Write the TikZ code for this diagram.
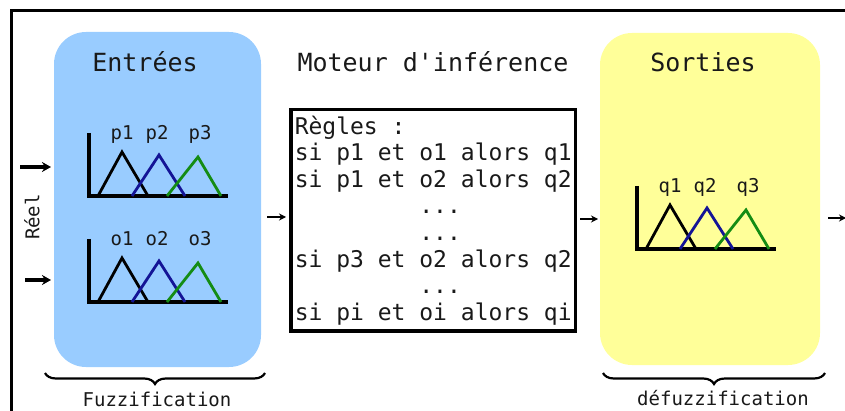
\documentclass[tikz,border=0pt]{standalone}
\usepackage{fontspec}
\setmonofont{DejaVu Sans Mono}
\usetikzlibrary{arrows.meta,decorations.pathreplacing}
\definecolor{inblue}{RGB}{153,204,255}
\definecolor{outyellow}{RGB}{255,255,153}
\definecolor{txt}{RGB}{25,25,25}
\definecolor{mfblue}{RGB}{20,20,150}
\definecolor{mfgreen}{RGB}{20,140,20}
\tikzset{
  mf/.pic={
    \draw[line width=4.5pt] (0,-63) -- (0,0) -- (139,0);
    \draw[line width=2.8pt, black] (9,0) -- (33,-44) -- (59,0);
    \draw[line width=2.8pt, mfblue] (43,0) -- (70,-41) -- (96,0);
    \draw[line width=2.8pt, mfgreen] (78,0) -- (109,-39) -- (132,0);
    \node[small, anchor=base] (-l1) at (33,-56) {#11};
    \node[small, anchor=base] (-l2) at (68,-56) {#12};
    \node[small, anchor=base] (-l3) at (111,-56) {#13};
  }
}
\begin{document}
\begin{tikzpicture}[x=1pt,y=-1pt,
  every node/.style={font=\ttfamily, text=txt},
  title/.style={font=\ttfamily\fontsize{25}{30}\selectfont, anchor=base, inner sep=0pt},
  small/.style={font=\ttfamily\fontsize{19}{22}\selectfont, inner sep=0pt},
  panel/.style={rounded corners=32pt, inner sep=0pt},
  rulesbox/.style={draw, line width=3.5pt, align=left, anchor=north west,
    font=\ttfamily\fontsize{23}{26.6}\selectfont, inner xsep=4pt, inner ysep=6pt},
  flow/.style={line width=2pt, -{Stealth[length=7pt,width=7pt]}},
  flowthick/.style={line width=3.5pt, -{Stealth[length=9pt,width=10pt]}},
  bracestyle/.style={decorate, decoration={brace, mirror, amplitude=11pt}, line width=2.2pt}
]
\useasboundingbox (0,0) rectangle (845,411);
% outer frame
\draw[line width=3pt] (11,430) -- (11,11) -- (860,11);
% panels
\node[panel, fill=inblue, minimum width=207pt, minimum height=335pt] (inbox) at (157.5,199.5) {};
\node[panel, fill=outyellow, minimum width=220pt, minimum height=332pt] (outbox) at (710,199) {};
% titles
\node[title] (tin) at (145,72) {Entrées};
\node[title] (teng) at (433,72) {Moteur d'inférence};
\node[title] (tout) at (703,72) {Sorties};
% charts
\pic (cp) at (89,196) {mf=p};
\pic (co) at (89,302) {mf=o};
\pic (cq) at (637,249) {mf=q};
% rules
\node[rulesbox] (rules) at (289,108) {Règles :\\
si p1 et o1 alors q1\\
si p1 et o2 alors q2\\
\phantom{si p1 et }...\\
\phantom{si p1 et }...\\
si p3 et o2 alors q2\\
\phantom{si p1 et }...\\
si pi et oi alors qi};
% arrows
\coordinate (a1s) at (20,167); \coordinate (a1e) at (51,167);
\coordinate (a2s) at (25,280); \coordinate (a2e) at (51,280);
\coordinate (m1s) at (267,217); \coordinate (m1e) at (286,217);
\coordinate (m2s) at (580,219); \coordinate (m2e) at (598,219);
\coordinate (m3s) at (828,218); \coordinate (m3e) at (846,218);
\draw[flowthick] (a1s) -- (a1e);
\draw[flowthick] (a2s) -- (a2e);
\draw[flow] (m1s) -- (m1e);
\draw[flow] (m2s) -- (m2e);
\draw[flow] (m3s) -- (m3e);
\node[small, rotate=90] (reel) at (32,217) {Réel};
% braces
\coordinate (b1s) at (45,373); \coordinate (b1e) at (265,373);
\coordinate (b2s) at (603,373); \coordinate (b2e) at (825,373);
\draw[bracestyle] (b1s) -- (b1e);
\draw[bracestyle] (b2s) -- (b2e);
\node[small, anchor=base] (fuzz) at (157,406) {Fuzzification};
\node[small, anchor=base] (defuzz) at (723,405) {défuzzification};
\end{tikzpicture}
\end{document}
